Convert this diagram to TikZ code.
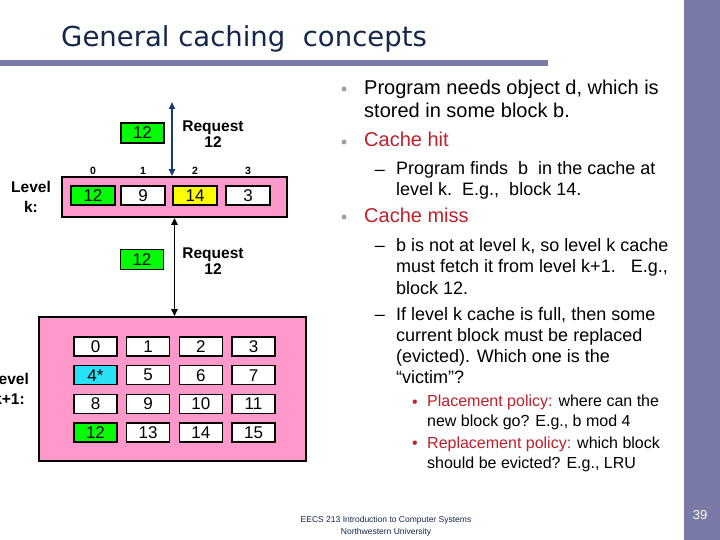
\documentclass[tikz,border=0pt]{standalone}
\usepackage{fontspec}
\setmainfont{Liberation Sans}
\newfontfamily\titlefont{DejaVu Sans}
\usetikzlibrary{arrows.meta, positioning}
\definecolor{slidePurple}{RGB}{122,122,166}
\definecolor{slideNavy}  {RGB}{ 20, 40, 75}
\definecolor{slideRed}   {RGB}{192, 32, 42}
\definecolor{cachePink}  {RGB}{255,153,204}
\definecolor{blkGreen}   {RGB}{  0,255,  0}
\definecolor{blkYellow}  {RGB}{255,255,  0}
\definecolor{blkCyan}    {RGB}{ 40,225,245}
\definecolor{reqBlue}    {RGB}{ 25, 60,110}

\begin{document}
\begin{tikzpicture}[x=1bp, y=-1bp,
  lvl/.style={rectangle, draw=black, line width=1.6bp, fill=cachePink,
    inner sep=0pt},
  blk/.style={rectangle, draw=black, line width=1.4bp, fill=white,
    minimum width=44bp, minimum height=19bp, inner sep=0pt,
    font=\fontsize{17bp}{17bp}\selectfont},
  lbl/.style={align=center, anchor=base, inner sep=0pt,
    font=\bfseries\fontsize{15.5bp}{20bp}\selectfont},
  idx/.style={anchor=base, inner sep=0pt,
    font=\bfseries\fontsize{10.5bp}{10.5bp}\selectfont},
  req/.style={align=center, anchor=base, inner sep=0pt,
    font=\bfseries\fontsize{15.5bp}{16bp}\selectfont},
  txt/.style={align=left, anchor=base west, inner sep=0pt,
    font=\fontsize{20bp}{23bp}\selectfont},
  sub/.style={align=left, anchor=base west, inner sep=0pt,
    font=\fontsize{18bp}{21bp}\selectfont},
  subsub/.style={align=left, anchor=base west, inner sep=0pt,
    font=\fontsize{16bp}{19.5bp}\selectfont},
  dot/.style={circle, fill=gray!75, minimum size=5bp, inner sep=0pt},
  arr/.style={{Triangle[length=7bp,width=6bp]}-{Triangle[length=7bp,width=6bp]},
    line width=1.8bp},
]
\useasboundingbox (0,0) rectangle (720,540);
\fill[white] (0,0) rectangle (720,540);

%% Slide frame
\fill[slidePurple] (684,0) rectangle (720,540);
\fill[slidePurple] (0,60) rectangle (548,66);
\node[anchor=base west, inner sep=0pt, text=slideNavy,
  font=\titlefont\fontsize{27.5bp}{27.5bp}\selectfont] (title) at (61,47)
  {General caching\ \ concepts};
\node[text=white, font=\fontsize{13bp}{13bp}\selectfont] (pgnum) at (700,515) {39};
\node[align=center, anchor=base, inner sep=0pt, text=slideNavy,
  font=\fontsize{8.5bp}{11.5bp}\selectfont] (foot) at (386,534)
  {EECS 213 Introduction to Computer Systems\\Northwestern University};

%% Level k
\node[lvl, minimum width=225bp, minimum height=40bp] (lk) at (174.5,197) {};
\node[lbl] (lklbl) at (31,213) {Level\\k:};
\foreach \n/\x/\v/\col in {0/93/12/blkGreen, 1/143/9/white,
  2/195/14/blkYellow, 3/248/3/white}{
  \node[blk, fill=\col] (k\n) at (\x,195.5) {\v};
  \node[idx] (kx\n) at (\x,175) {\n};
}

%% Level k+1
\node[lvl, minimum width=267bp, minimum height=144bp] (lk1) at (172.5,389) {};
\node[lbl] (lk1lbl) at (9,404) {Level\\k+1:};
\foreach \v/\col [count=\b from 0] in {0/white, 1/white, 2/white, 3/white,
  4*/blkCyan, 5/white, 6/white, 7/white, 8/white, 9/white, 10/white,
  11/white, 12/blkGreen, 13/white, 14/white, 15/white}{
  \pgfmathsetmacro{\x}{95.5+52.67*mod(\b,4)}
  \pgfmathsetmacro{\y}{346.5+28.67*int(\b/4)}
  \node[blk, minimum width=43bp, fill=\col] (m\b) at (\x,\y) {\v};
}

%% Requests
\coordinate (reqtop) at (172,102);
\node[blk, fill=blkGreen, minimum width=43bp, minimum height=20bp] (req1) at (142.5,133) {12};
\node[req] (req1txt) at (213,148) {Request\\12};
\draw[arr, reqBlue] (reqtop) -- (reqtop |- lk.north);

\node[blk, fill=blkGreen, minimum width=43bp, minimum height=20bp] (req2) at (142,259.5) {12};
\node[req] (req2txt) at (213,275) {Request\\12};
\draw[arr, black] (lk.south) -- (lk.south |- lk1.north);

%% Bullet text (placed at the baseline of the last line)
\node[txt] (b1) at (364,118) {Program needs object d, which is\\stored in some block b.};
\node[txt, text=slideRed] (b2) at (364,147) {Cache hit};
\node[sub] (s1) at (396,196) {Program finds\ \ b\ \ in the cache at\\level k.\ \ E.g.,\ \ block 14.};
\node[txt, text=slideRed] (b3) at (364,223) {Cache miss};
\node[sub] (s2) at (396,294)
  {b is not at level k, so level k cache\\must fetch it from level k+1.\ \ \ E.g.,\\block 12.};
\node[sub] (s3) at (396,383)
  {If level k cache is full, then some\\current block must be replaced\\(evicted). Which one is the\\“victim”?};
\node[subsub] (ss1) at (427,426)
  {{\color{slideRed}Placement policy:} where can the\\new block go? E.g., b mod 4};
\node[subsub] (ss2) at (427,468)
  {{\color{slideRed}Replacement policy:} which block\\should be evicted? E.g., LRU};

%% Bullet marks
\foreach \y in {89, 142, 217}{
  \node[dot] at (344,\y) {};
}
\foreach \y in {176, 252, 320}{
  \node[sub, anchor=base east] at (385,\y) {–};
}
\foreach \y in {407, 448}{
  \node[subsub, anchor=base east, text=slideRed] at (418,\y) {•};
}
\end{tikzpicture}
\end{document}
